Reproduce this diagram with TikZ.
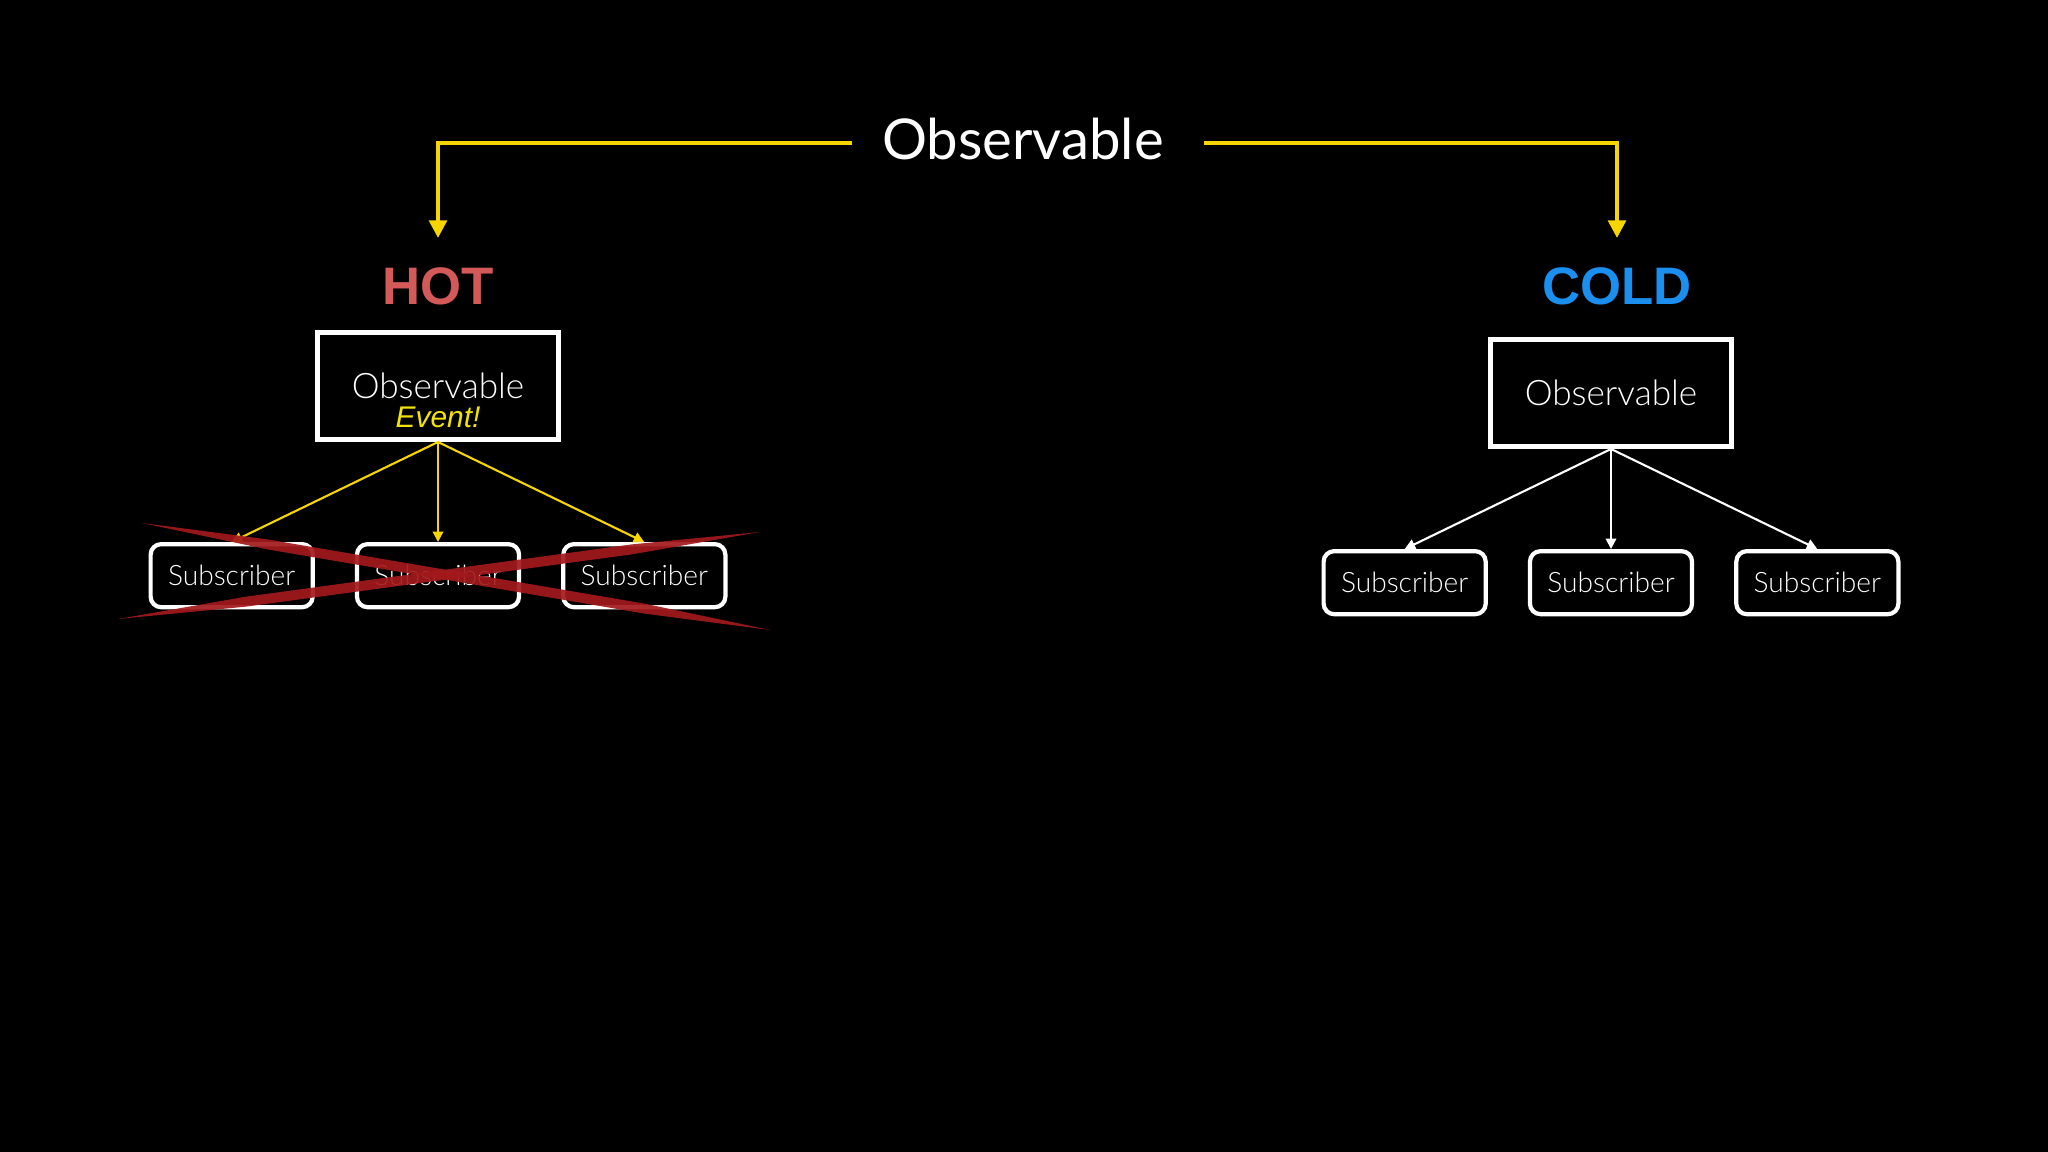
\documentclass[tikz,border=0pt]{standalone}
\usepackage{fontspec}
\setmainfont{Lato Light}
\newfontfamily\titlefont{Lato}
\newfontfamily\headfont{Liberation Sans}
\usetikzlibrary{positioning,arrows.meta,calc}

\definecolor{flowyellow}{HTML}{F7D500}
\definecolor{hotred}{HTML}{D45A5A}
\definecolor{coldblue}{HTML}{1A8FEF}
\definecolor{eventyellow}{HTML}{F2E20A}
\definecolor{crossred}{HTML}{A3191C}

\begin{document}
\begin{tikzpicture}[
        x=0.01cm, y=-0.01cm,
        node distance = 4mm,
        obsbox/.style = {draw=white, line width=1.4pt, minimum width=2.4cm,
            minimum height=1.07cm, text=white, font=\fontsize{10pt}{12pt}\selectfont},
        subbox/.style = {draw=white, line width=1.2pt, rounded corners=3pt,
            minimum width=1.62cm, minimum height=0.63cm, text=white,
            font=\fontsize{8pt}{10pt}\selectfont},
        kind/.style = {anchor=base, font=\headfont\bfseries\fontsize{15pt}{18pt}\selectfont},
        flow/.style = {draw=flowyellow, line width=1.1pt, -{Triangle[width=5pt,length=5pt]}},
        hotedge/.style = {draw=flowyellow, line width=0.6pt, -{Triangle[width=3pt,length=3pt]}},
        coldedge/.style = {draw=white, line width=0.6pt, -{Triangle[width=3pt,length=3pt]}}]

    % background
    \fill[black] (0,0) rectangle (2048,1152);

    % NODES
    % title
    \node[text=white, font=\titlefont\fontsize{16pt}{19pt}\selectfont, inner xsep=0.3cm] (title) at (1023,139) {Observable};
    \coordinate (split) at (1023,143);
    \coordinate (hottip) at (438,238);
    \coordinate (coldtip) at (1617,238);
    % hot side
    \node[kind, text=hotred] (hot) at (438,305) {HOT};
    \node[obsbox] (hotobs) at (438,386) {Observable};
    \node[anchor=base, text=eventyellow, font=\headfont\itshape\fontsize{8.5pt}{10pt}\selectfont] (event) at (438,428) {Event!};
    \node[subbox, below=1cm of hotobs] (hsubB) {Subscriber};
    \node[subbox, left=of hsubB] (hsubA) {Subscriber};
    \node[subbox, right=of hsubB] (hsubC) {Subscriber};
    % cold side
    \node[kind, text=coldblue] (cold) at (1617,305) {COLD};
    \node[obsbox] (coldobs) at (1611,393) {Observable};
    \node[subbox, below=1cm of coldobs] (csubB) {Subscriber};
    \node[subbox, left=of csubB] (csubA) {Subscriber};
    \node[subbox, right=of csubB] (csubC) {Subscriber};

    % ARROWS
    \draw[flow] (title.west |- split) -| (hottip);
    \draw[flow] ([xshift=1mm]title.east |- split) -| (coldtip);
    \draw[hotedge] (hotobs.south) -- (hsubA.north);
    \draw[hotedge] (hotobs.south) -- (hsubB.north);
    \draw[hotedge] (hotobs.south) -- (hsubC.north);
    \draw[coldedge] (coldobs.south) -- (csubA.north);
    \draw[coldedge] (coldobs.south) -- (csubB.north);
    \draw[coldedge] (coldobs.south) -- (csubC.north);

    % CROSS
    \coordinate (xa1) at (142,523);
    \coordinate (xa2) at (770,630);
    \coordinate (xb1) at (118,619);
    \coordinate (xb2) at (760,532);
    \foreach \s/\e in {xa1/xa2, xb1/xb2}
        \fill[crossred, opacity=0.92] (\s) -- ($(\s)!0.2!(\e)+(0,-5)$) -- ($(\s)!0.8!(\e)+(0,-5)$)
            -- (\e) -- ($(\s)!0.8!(\e)+(0,5)$) -- ($(\s)!0.2!(\e)+(0,5)$) -- cycle;
\end{tikzpicture}
\end{document}
